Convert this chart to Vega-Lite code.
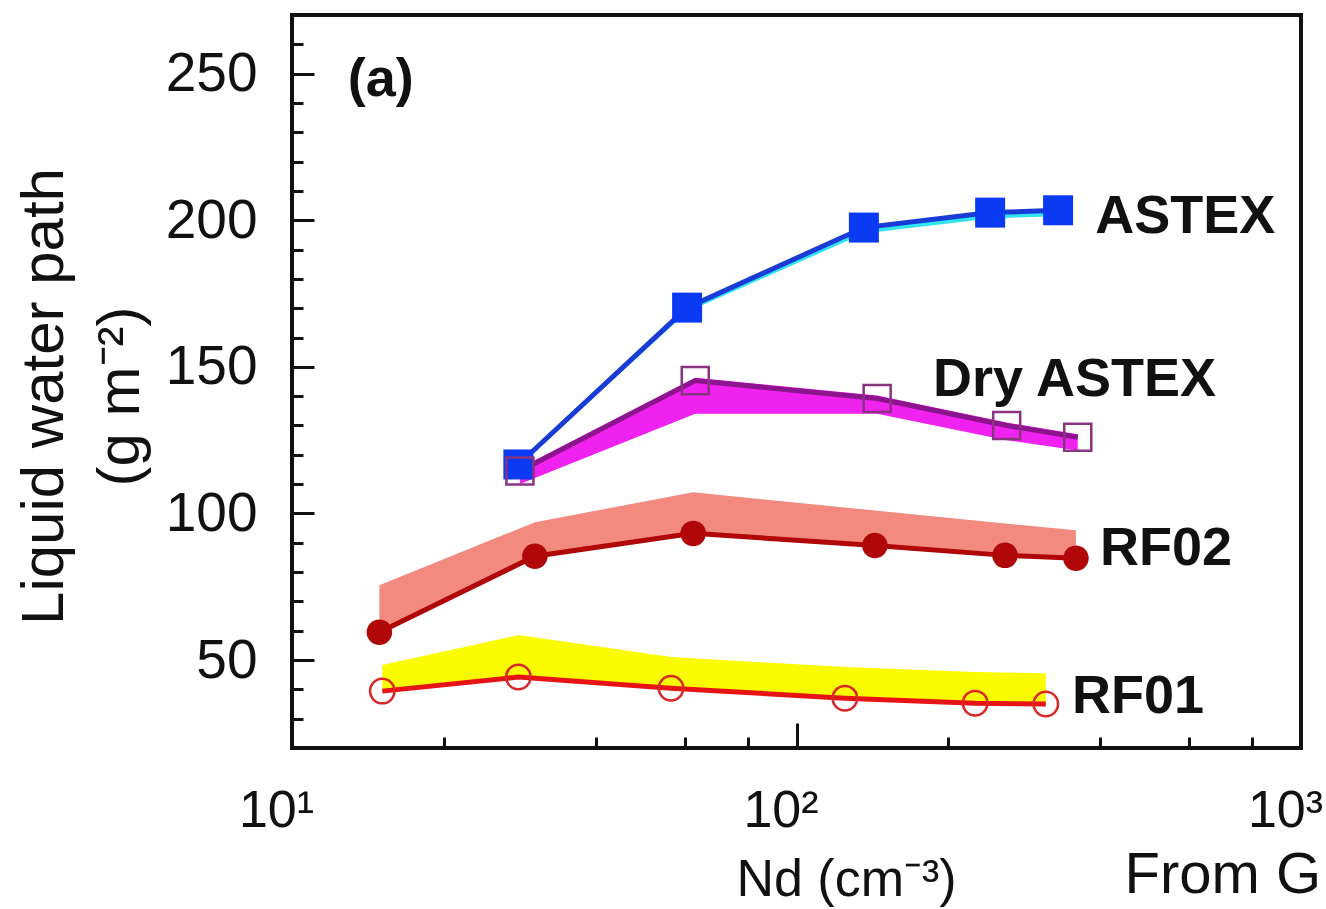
{
  "$schema": "https://vega.github.io/schema/vega-lite/v6.json",
  "width": 1009,
  "height": 733,
  "autosize": {"type": "none"},
  "padding": {"left": 292, "top": 15, "right": 25, "bottom": 161},
  "background": "white",
  "title": {"text": "From G", "orient": "bottom", "anchor": "end", "frame": "group", "fontSize": 58, "fontWeight": "normal", "font": "Liberation Sans", "color": "#111111", "baseline": "alphabetic", "offset": 0, "dx": 20, "dy": -12},
  "config": {
    "font": "Liberation Sans",
    "view": {"stroke": "#111111", "strokeWidth": 4},
    "axis": {"grid": false, "domain": false, "tickColor": "#111111", "tickWidth": 3, "labelColor": "#111111", "titleColor": "#111111", "labelFont": "Liberation Sans", "titleFont": "Liberation Sans", "titleFontWeight": "normal", "labelFlush": false, "labelOverlap": false, "labelBound": false}
  },
  "datasets": {
    "series": [
      {"series": "ASTEX", "nd": 28.1, "lwp": 116.7, "lo": 116.2, "hi": 116.7},
      {"series": "ASTEX", "nd": 60.7, "lwp": 170.2, "lo": 168.7, "hi": 170.2},
      {"series": "ASTEX", "nd": 136, "lwp": 197.5, "lo": 195.5, "hi": 197.5},
      {"series": "ASTEX", "nd": 242, "lwp": 202.6, "lo": 200.6, "hi": 202.6},
      {"series": "ASTEX", "nd": 330, "lwp": 203.4, "lo": 201.4, "hi": 203.4},
      {"series": "Dry ASTEX", "nd": 28.3, "lwp": 114.5, "lo": 110, "hi": 115.5},
      {"series": "Dry ASTEX", "nd": 63, "lwp": 145.3, "lo": 134, "hi": 146.3},
      {"series": "Dry ASTEX", "nd": 144.5, "lwp": 139.2, "lo": 134, "hi": 140.2},
      {"series": "Dry ASTEX", "nd": 261, "lwp": 130, "lo": 125, "hi": 131},
      {"series": "Dry ASTEX", "nd": 361, "lwp": 126, "lo": 121.5, "hi": 127},
      {"series": "RF02", "nd": 14.9, "lwp": 59.5, "lo": 59.5, "hi": 75.5},
      {"series": "RF02", "nd": 30.3, "lwp": 85.4, "lo": 85.4, "hi": 97},
      {"series": "RF02", "nd": 62.4, "lwp": 93.2, "lo": 93.2, "hi": 107.2},
      {"series": "RF02", "nd": 143, "lwp": 89.1, "lo": 89.1, "hi": 101},
      {"series": "RF02", "nd": 259, "lwp": 85.7, "lo": 85.7, "hi": 96.6},
      {"series": "RF02", "nd": 358, "lwp": 84.7, "lo": 84.7, "hi": 94.3},
      {"series": "RF01", "nd": 15.1, "lwp": 39.4, "lo": 39.4, "hi": 48.3},
      {"series": "RF01", "nd": 28.1, "lwp": 44.2, "lo": 44.2, "hi": 58.5},
      {"series": "RF01", "nd": 56.4, "lwp": 40.4, "lo": 40.4, "hi": 51},
      {"series": "RF01", "nd": 124.7, "lwp": 37.0, "lo": 37.0, "hi": 47.6},
      {"series": "RF01", "nd": 226, "lwp": 35.3, "lo": 35.3, "hi": 45.9},
      {"series": "RF01", "nd": 312, "lwp": 35.0, "lo": 35.0, "hi": 45.5}
    ],
    "labels": [
      {"label": "(a)", "nd": 12.9, "lwp": 242.4},
      {"label": "ASTEX", "nd": 391, "lwp": 195.7},
      {"label": "Dry ASTEX", "nd": 186.5, "lwp": 140.2},
      {"label": "RF02", "nd": 399.6, "lwp": 82.3},
      {"label": "RF01", "nd": 351.6, "lwp": 31.9}
    ]
  },
  "encoding": {
    "x": {
      "field": "nd", "type": "quantitative",
      "scale": {"type": "log", "domain": [10, 1000]},
      "axis": {
        "values": [10, 20, 40, 60, 80, 100, 200, 400, 600, 800, 1000],
        "labelExpr": "datum.value == 10 ? '10¹' : datum.value == 100 ? '10²' : datum.value == 1000 ? '10³' : ''",
        "tickSize": {"condition": {"test": "datum.value == 10 || datum.value == 100 || datum.value == 1000", "value": -25}, "value": -11},
        "labelFontSize": 52,
        "labelPadding": 62,
        "labelOffset": -16,
        "title": "Nd (cm⁻³)",
        "titleFontSize": 52,
        "titleX": 554,
        "titleY": 147,
        "titleBaseline": "alphabetic",
        "titleAlign": "center"
      }
    },
    "y": {
      "field": "lwp", "type": "quantitative",
      "scale": {"domain": [20, 270], "nice": false, "zero": false},
      "axis": {
        "values": [20, 30, 40, 50, 60, 70, 80, 90, 100, 110, 120, 130, 140, 150, 160, 170, 180, 190, 200, 210, 220, 230, 240, 250, 260, 270],
        "labelExpr": "datum.value % 50 == 0 ? datum.label : ''",
        "tickSize": {"condition": {"test": "datum.value % 50 == 0", "value": -22}, "value": -11},
        "labelFontSize": 55,
        "labelPadding": 57,
        "title": ["Liquid water path", "(g m⁻²)"],
        "titleFontSize": 60,
        "titleLineHeight": 76,
        "titleAngle": -90,
        "titleX": -230,
        "titleY": 381,
        "titleBaseline": "alphabetic",
        "titleAlign": "center"
      }
    }
  },
  "resolve": {"scale": {"fill": "independent", "stroke": "independent", "shape": "independent", "size": "independent"}},
  "layer": [
    {
      "data": {"name": "series"},
      "mark": {"type": "area", "opacity": 1},
      "encoding": {
        "y": {
          "field": "hi", "type": "quantitative",
          "scale": {"domain": [20, 270], "nice": false, "zero": false},
          "axis": {
            "values": [20, 30, 40, 50, 60, 70, 80, 90, 100, 110, 120, 130, 140, 150, 160, 170, 180, 190, 200, 210, 220, 230, 240, 250, 260, 270],
            "labelExpr": "datum.value % 50 == 0 ? datum.label : ''",
            "tickSize": {"condition": {"test": "datum.value % 50 == 0", "value": -22}, "value": -11},
            "labelFontSize": 55,
            "labelPadding": 57,
            "title": ["Liquid water path", "(g m⁻²)"],
            "titleFontSize": 60,
            "titleLineHeight": 76,
            "titleAngle": -90,
            "titleX": -230,
            "titleY": 381,
            "titleBaseline": "alphabetic",
            "titleAlign": "center"
          }
        },
        "y2": {"field": "lo"},
        "fill": {"field": "series", "type": "nominal", "legend": null,
          "scale": {"domain": ["ASTEX", "Dry ASTEX", "RF02", "RF01"], "range": ["#30e4f2", "#f022f0", "#f28a80", "#fcfc00"]}}
      }
    },
    {
      "data": {"name": "series"},
      "mark": {"type": "line", "strokeWidth": 5},
      "encoding": {
        "stroke": {"field": "series", "type": "nominal", "legend": null,
          "scale": {"domain": ["ASTEX", "Dry ASTEX", "RF02", "RF01"], "range": ["#1a3cd6", "#8c148c", "#b00808", "#e61414"]}}
      }
    },
    {
      "data": {"name": "series"},
      "transform": [{"filter": "datum.series == 'ASTEX' || datum.series == 'RF02'"}],
      "mark": {"type": "point", "filled": true, "opacity": 1},
      "encoding": {
        "shape": {"field": "series", "type": "nominal", "legend": null,
          "scale": {"domain": ["ASTEX", "RF02"], "range": ["square", "circle"]}},
        "fill": {"field": "series", "type": "nominal", "legend": null,
          "scale": {"domain": ["ASTEX", "RF02"], "range": ["#0a3af2", "#b00808"]}},
        "size": {"field": "series", "type": "nominal", "legend": null,
          "scale": {"domain": ["ASTEX", "RF02"], "range": [900, 650]}}
      }
    },
    {
      "data": {"name": "series"},
      "transform": [{"filter": "datum.series == 'Dry ASTEX' || datum.series == 'RF01'"}],
      "mark": {"type": "point", "filled": false, "opacity": 1, "strokeWidth": 2.5},
      "encoding": {
        "shape": {"field": "series", "type": "nominal", "legend": null,
          "scale": {"domain": ["Dry ASTEX", "RF01"], "range": ["square", "circle"]}},
        "stroke": {"field": "series", "type": "nominal", "legend": null,
          "scale": {"domain": ["Dry ASTEX", "RF01"], "range": ["#8a3380", "#d82828"]}},
        "size": {"field": "series", "type": "nominal", "legend": null,
          "scale": {"domain": ["Dry ASTEX", "RF01"], "range": [730, 600]}}
      }
    },
    {
      "data": {"name": "labels"},
      "mark": {"type": "text", "align": "left", "baseline": "alphabetic", "fontSize": 54, "fontWeight": "bold", "font": "Liberation Sans", "color": "#111111"},
      "encoding": {
        "text": {"field": "label", "type": "nominal"}
      }
    }
  ]
}
